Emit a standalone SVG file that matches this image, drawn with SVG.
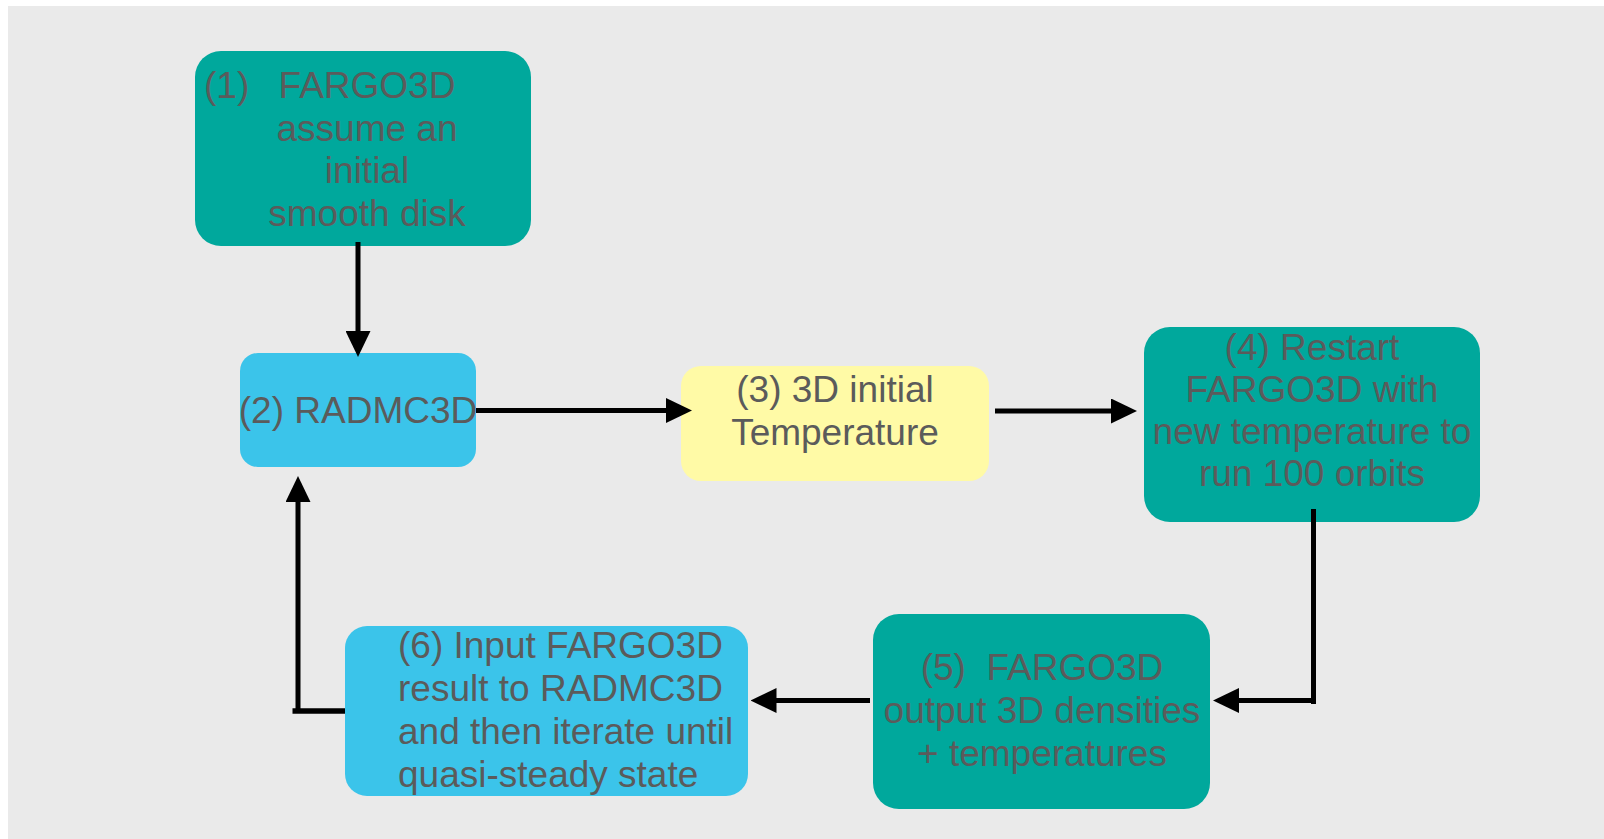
<svg xmlns="http://www.w3.org/2000/svg" width="1604" height="839" viewBox="0 0 1604 839">
<defs>
<style>
.lbl{font-family:"Liberation Sans",Arial,Helvetica,sans-serif;font-size:37px;fill:#5b5b5b}
.mid{text-anchor:middle}
.teal{fill:#00a89c}
.blue{fill:#3bc4ea}
.yellow{fill:#fffaa6}
.ln{stroke:#000;stroke-width:5;fill:none}
</style>
<marker id="ah" viewBox="0 0 26 25" refX="6" refY="12.5" markerWidth="26" markerHeight="25" markerUnits="userSpaceOnUse" orient="auto">
<path d="M0,0 L26,12.5 L0,25 Z" fill="#000"/>
</marker>
</defs>
<rect x="8" y="6" width="1596" height="833" fill="#eaeaea"/>

<g id="node1">
<rect class="teal" x="195" y="51" width="336" height="195" rx="26"/>
<text class="lbl"><tspan x="204" y="98">(1)</tspan><tspan class="mid" x="367" y="98">FARGO3D</tspan></text>
<text class="lbl mid" x="367" y="140.5">assume an</text>
<text class="lbl mid" x="367" y="183">initial</text>
<text class="lbl mid" x="367" y="225.5">smooth disk</text>
</g>

<g id="node2">
<rect class="blue" x="240" y="353" width="236" height="114" rx="18"/>
<text class="lbl mid" x="358" y="423">(2) RADMC3D</text>
</g>

<g id="node3">
<rect class="yellow" x="681" y="366" width="308" height="115" rx="20"/>
<text class="lbl mid" x="835" y="402">(3) 3D initial</text>
<text class="lbl mid" x="835" y="444.5">Temperature</text>
</g>

<g id="node4">
<rect class="teal" x="1144" y="327" width="336" height="195" rx="26"/>
<text class="lbl mid" x="1312" y="359.5">(4) Restart</text>
<text class="lbl mid" x="1312" y="401.5">FARGO3D with</text>
<text class="lbl mid" x="1312" y="443.5">new temperature to</text>
<text class="lbl mid" x="1312" y="485.5">run 100 orbits</text>
</g>

<g id="node5">
<rect class="teal" x="873" y="614" width="337" height="195" rx="26"/>
<text class="lbl mid" x="1042" y="680">(5)&#160; FARGO3D</text>
<text class="lbl mid" x="1042" y="722.5">output 3D densities</text>
<text class="lbl mid" x="1042" y="765.5">+ temperatures</text>
</g>

<g id="node6">
<rect class="blue" x="345" y="626" width="403" height="170" rx="22"/>
<text class="lbl" x="398" y="658">(6) Input FARGO3D</text>
<text class="lbl" x="398" y="701">result to RADMC3D</text>
<text class="lbl" x="398" y="744">and then iterate until</text>
<text class="lbl" x="398" y="786.5">quasi-steady state</text>
</g>

<g id="connectors">
<line class="ln" x1="358" y1="242" x2="358" y2="337" marker-end="url(#ah)"/>
<line class="ln" x1="476" y1="410.5" x2="672" y2="410.5" marker-end="url(#ah)"/>
<line class="ln" x1="995" y1="411" x2="1117" y2="411" marker-end="url(#ah)"/>
<line class="ln" x1="1313.5" y1="509" x2="1313.5" y2="704"/>
<line class="ln" x1="1316" y1="700.5" x2="1233" y2="700.5" marker-end="url(#ah)"/>
<line class="ln" x1="870" y1="700.5" x2="770.5" y2="700.5" marker-end="url(#ah)"/>
<line class="ln" x1="345" y1="711" x2="292.5" y2="711" style="stroke-width:5.6"/>
<line class="ln" x1="298" y1="713" x2="298" y2="496" marker-end="url(#ah)"/>
</g>
</svg>
